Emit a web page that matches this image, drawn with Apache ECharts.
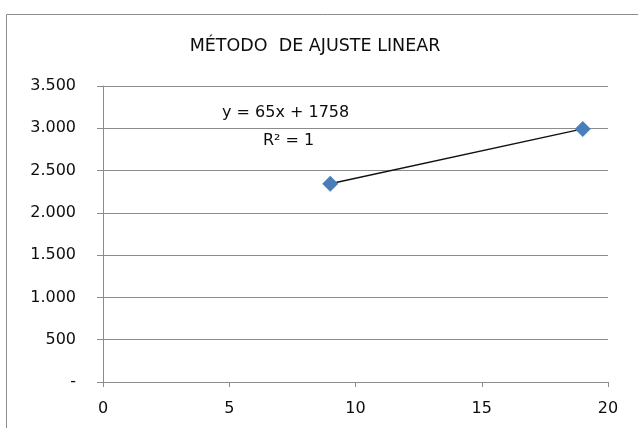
<!DOCTYPE html>
<html>
<head>
<meta charset="utf-8">
<script src="https://cdn.jsdelivr.net/npm/echarts@6/dist/echarts.min.js"></script>
<style>
html,body{margin:0;padding:0;background:#fff;}
#chart{width:638px;height:428px;}
</style>
</head>
<body>
<div id="chart"></div>
<script>
// Measured points
const xValues = [9, 19];
const yValues = [2343, 2993];
const titleText = 'MÉTODO  DE AJUSTE LINEAR';
const xTicks = [0, 5, 10, 15, 20];
const yTicks = [0, 500, 1000, 1500, 2000, 2500, 3000, 3500];

// Least-squares fit for the trendline label
function fit(xs, ys) {
  const n = xs.length;
  const mx = xs.reduce((a, b) => a + b, 0) / n;
  const my = ys.reduce((a, b) => a + b, 0) / n;
  let sxy = 0, sxx = 0, syy = 0;
  for (let i = 0; i < n; i++) {
    sxy += (xs[i] - mx) * (ys[i] - my);
    sxx += (xs[i] - mx) ** 2;
    syy += (ys[i] - my) ** 2;
  }
  const m = sxy / sxx;
  const b = my - m * mx;
  const r2 = (sxy * sxy) / (sxx * syy);
  return { m, b, r2 };
}
const f = fit(xValues, yValues);
const eqText = 'y = ' + Math.round(f.m) + 'x + ' + Math.round(f.b);
const r2Text = 'R² = ' + Math.round(f.r2 * 10000) / 10000;

function thousands(v) {
  if (v === 0) return '-';
  return String(v).replace(/\B(?=(\d{3})+(?!\d))/g, '.');
}

const font = '"DejaVu Sans", sans-serif';
const textColor = '#0d0d0d';
const chart = echarts.init(document.getElementById('chart'), null, { renderer: 'canvas' });
chart.setOption({
  animation: false,
  backgroundColor: '#fff',
  title: {
    text: titleText,
    left: 310, top: 32, textAlign: 'center',
    textStyle: { fontFamily: font, fontSize: 17.5, fontWeight: 'normal', color: textColor }
  },
  grid: { left: 103, right: 30, top: 86, bottom: 46 },
  xAxis: {
    type: 'value', min: xTicks[0], max: xTicks[xTicks.length - 1], interval: 5,
    axisLine: { show: true, lineStyle: { color: '#8c8c8c', width: 1 } },
    axisTick: { show: true, length: 5, lineStyle: { color: '#8c8c8c' } },
    splitLine: { show: false },
    axisLabel: { margin: 19, fontFamily: font, fontSize: 16, color: textColor }
  },
  yAxis: {
    type: 'value', min: yTicks[0], max: yTicks[yTicks.length - 1], interval: 500,
    axisLine: { show: true, lineStyle: { color: '#8c8c8c', width: 1 } },
    axisTick: { show: true, length: 6, lineStyle: { color: '#8c8c8c' } },
    splitLine: { show: true, lineStyle: { color: '#8c8c8c', width: 1 } },
    axisLabel: { margin: 27, fontFamily: font, fontSize: 16, color: textColor, formatter: thousands }
  },
  series: [{
    type: 'line',
    data: xValues.map((x, i) => [x, yValues[i]]),
    symbol: 'diamond', symbolSize: 16,
    itemStyle: { color: '#4a7ebb' },
    lineStyle: { color: '#111', width: 1.5 },
    z: 3
  }],
  graphic: [
    { type: 'rect', shape: { x: 6.5, y: 14.5, width: 640, height: 420 },
      style: { fill: 'none', stroke: '#8c8c8c', lineWidth: 1 }, silent: true },
    { type: 'text', left: 222, top: 105,
      style: { text: eqText, font: '16px ' + font, fill: textColor } },
    { type: 'text', left: 263, top: 133,
      style: { text: r2Text, font: '16px ' + font, fill: textColor } }
  ]
});
</script>
</body>
</html>
